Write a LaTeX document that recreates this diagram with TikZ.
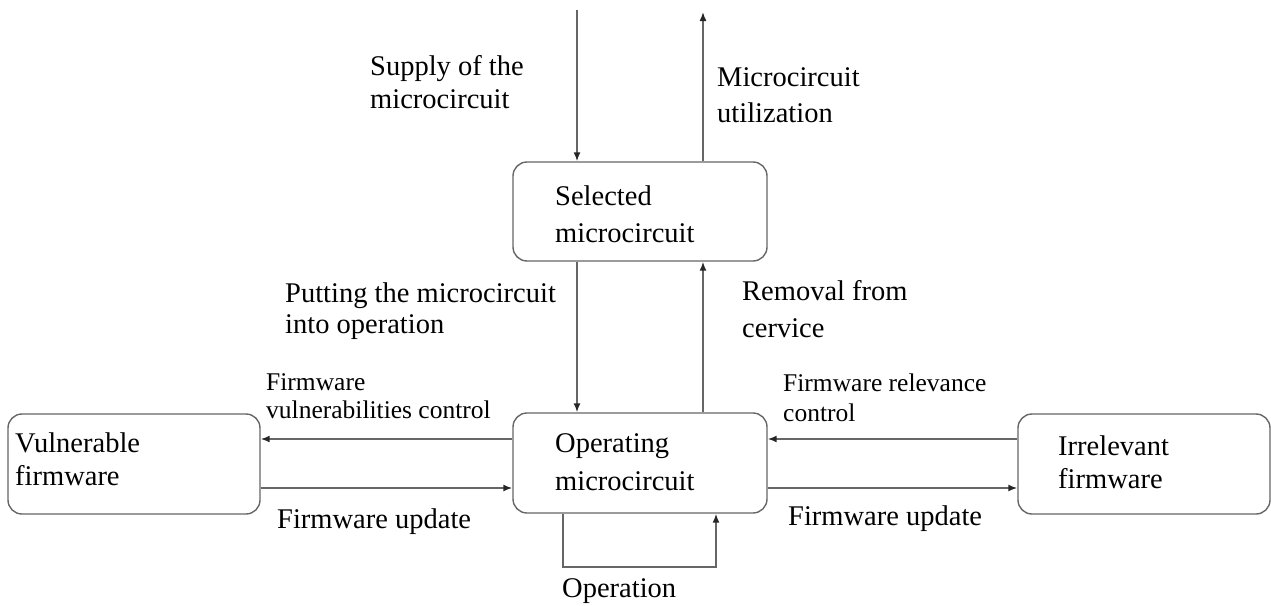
\documentclass[tikz,border=0pt]{standalone}
\usepackage{fontspec}
\setmainfont{Liberation Serif}
\usetikzlibrary{arrows.meta}
\begin{document}
\begin{tikzpicture}[x=1pt,y=-1pt,
  box/.style={draw=black!60,line width=1.4pt,rounded corners=14pt,inner sep=0pt},
  arr/.style={draw=black!60,line width=1.6pt,-{Latex[length=9pt,width=7pt,color=black!85]}},
  lbl/.style={font=\fontsize{28.5}{#1}\selectfont,align=left,anchor=north west,inner sep=0pt},
  lbl/.default=34,
  sml/.style={font=\fontsize{25.5}{#1}\selectfont,align=left,anchor=north west,inner sep=0pt},
  sml/.default=29]
\useasboundingbox (0,0) rectangle (1271,605);
% boxes
\node[box,minimum width=254pt,minimum height=99pt] (sel) at (640,211.5) {};
\node[box,minimum width=254pt,minimum height=100pt] (op) at (640,463) {};
\node[box,minimum width=252pt,minimum height=100pt] (vul) at (134,464) {};
\node[box,minimum width=252pt,minimum height=100pt] (irr) at (1144,464) {};
% box texts
\node[lbl=37] (tsel) at (555,185.5) {Selected\\microcircuit};
\node[lbl=38] (top) at (555,433.5) {Operating\\microcircuit};
\node[lbl=33] (tvul) at (15,432.5) {Vulnerable\\firmware};
\node[lbl=33] (tirr) at (1058,435.5) {Irrelevant\\firmware};
% free ends
\coordinate (in) at (577,10);
\coordinate (out) at (703,12);
% vertical arrows
\draw[arr] (in) -- (in |- sel.north);
\draw[arr] (out |- sel.north) -- (out);
\draw[arr] (sel.south -| in) -- (op.north -| in);
\draw[arr] (op.north -| out) -- (sel.south -| out);
% horizontal arrows
\draw[arr] (op.west |- 0,439) -- (vul.east |- 0,439);
\draw[arr] (vul.east |- 0,488) -- (op.west |- 0,488);
\draw[arr] (irr.west |- 0,439) -- (op.east |- 0,439);
\draw[arr] (op.east |- 0,488) -- (irr.west |- 0,488);
% loop
\draw[arr] (op.south -| 563,0) -- (563,567) -- (716,567) -- (op.south -| 716,0);
% labels
\node[lbl=33] (l1) at (370,55.5) {Supply of the\\microcircuit};
\node[lbl=36] (l2) at (717,67.5) {Microcircuit\\utilization};
\node[lbl=31] (l3) at (285,282.5) {Putting the microcircuit\\into operation};
\node[lbl=37] (l4) at (742,280.5) {Removal from\\cervice};
\node[sml=28] (l5) at (266,373) {Firmware\\vulnerabilities control};
\node[sml=30] (l6) at (783,374) {Firmware relevance\\control};
\node[lbl] (l7) at (277,508.5) {Firmware update};
\node[lbl] (l8) at (788,505.5) {Firmware update};
\node[lbl] (l9) at (562,578.5) {Operation};
\end{tikzpicture}
\end{document}
